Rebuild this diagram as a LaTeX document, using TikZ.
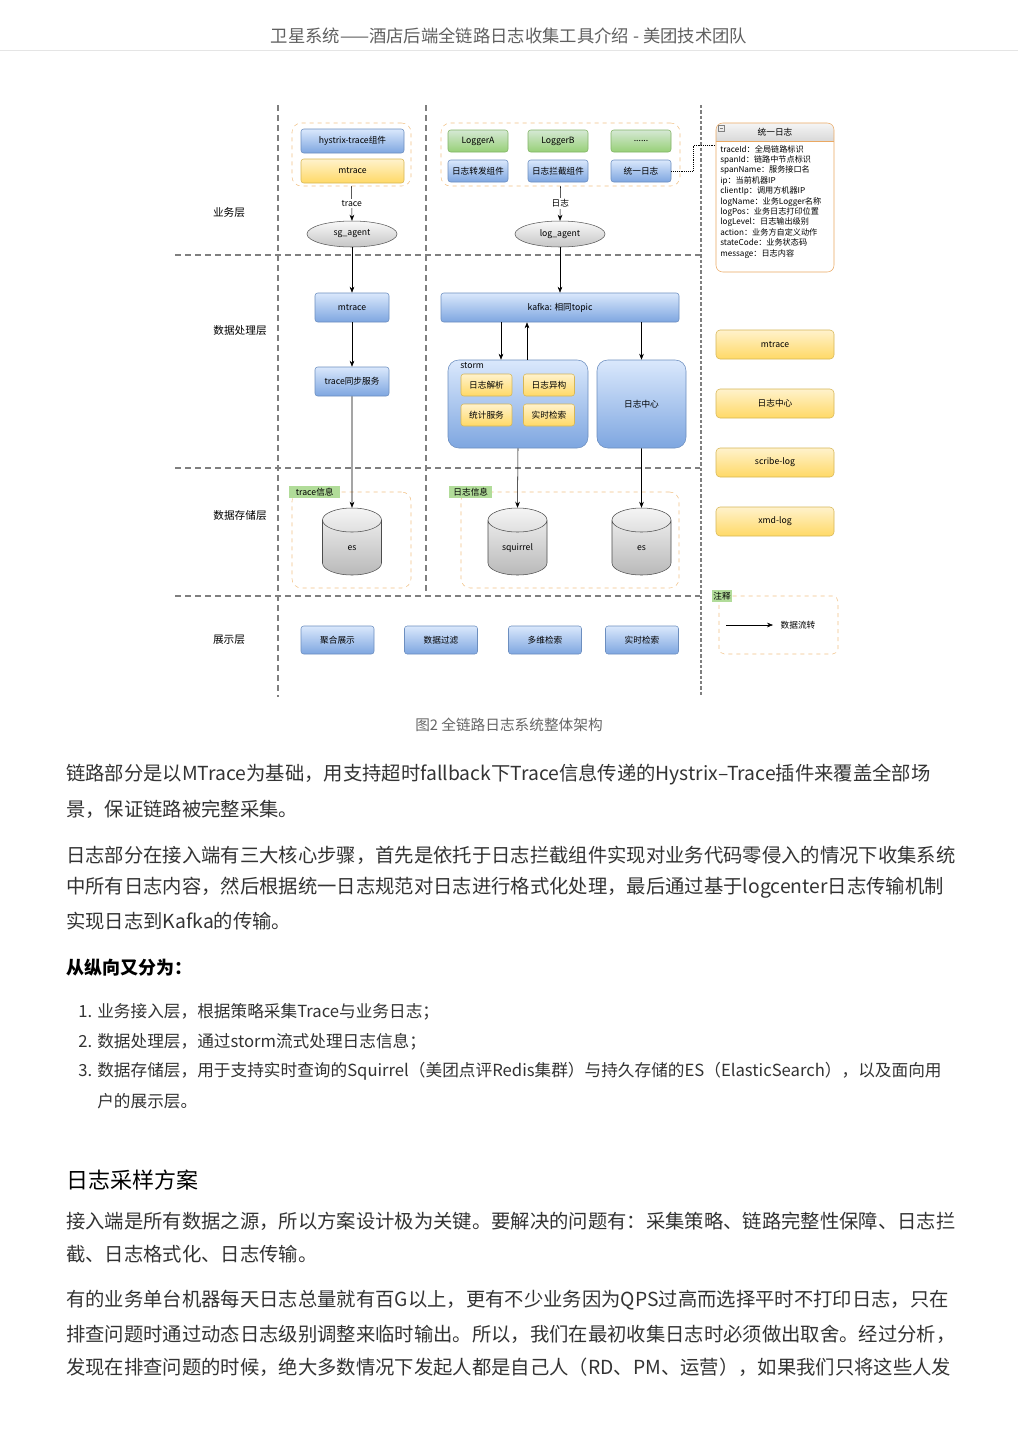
\documentclass[tikz,border=0pt]{standalone}
\usepackage{fontspec}
\setmainfont{Noto Sans CJK SC}
\usetikzlibrary{arrows.meta,positioning,shapes.geometric}
\definecolor{BodyText}{HTML}{333333}
\definecolor{LaneGray}{HTML}{7F7F7F}
\definecolor{BlueTop}{HTML}{DAE8FC}
\definecolor{BlueBot}{HTML}{7EA6E0}
\definecolor{BlueLine}{HTML}{6C8EBF}
\definecolor{YellowTop}{HTML}{FFF2CC}
\definecolor{YellowBot}{HTML}{FFD966}
\definecolor{YellowLine}{HTML}{D6B656}
\definecolor{GreenTop}{HTML}{D5E8D4}
\definecolor{GreenBot}{HTML}{97D077}
\definecolor{GreenLine}{HTML}{82B366}
\definecolor{GroupLine}{HTML}{F2C287}
\definecolor{ClassLine}{HTML}{EAA862}
\newcommand\dgsize{\fontsize{6.5}{7.5}\selectfont}
\newcommand\fieldsize{\fontsize{6.1}{7.8}\selectfont}
\tikzset{
  lane/.style={LaneGray,thick,dash pattern=on 4.5pt off 3pt},
  bluebox/.style={draw=BlueLine,top color=BlueTop,bottom color=BlueBot,rounded corners=2pt,
    inner sep=1pt,font=\dgsize,align=center},
  yellowbox/.style={draw=YellowLine,top color=YellowTop,bottom color=YellowBot,rounded corners=2pt,
    inner sep=1pt,font=\dgsize,align=center},
  greenbox/.style={draw=GreenLine,top color=GreenTop,bottom color=GreenBot,rounded corners=2pt,
    inner sep=1pt,font=\dgsize,align=center},
  group/.style={draw=GroupLine,dashed,rounded corners=7pt,inner sep=0pt},
  tag/.style={fill=GreenBot!75,inner sep=1pt,font=\dgsize},
  agent/.style={ellipse,draw=gray!70!black,top color=gray!5,bottom color=gray!45,inner sep=0pt,
    minimum width=67.5pt,minimum height=19.5pt,font=\dgsize},
  store/.style={cylinder,shape border rotate=90,aspect=0.5,draw=gray!60!black,
    top color=gray!8,bottom color=gray!55,inner sep=0pt,text width=36pt,align=center,
    minimum width=44.25pt,minimum height=50.25pt,font=\dgsize,anchor=shape center},
  outbox/.style={yellowbox,rounded corners=3pt,minimum width=88.5pt,minimum height=21.75pt},
  showbox/.style={bluebox,minimum width=54.75pt,minimum height=21pt},
  flow/.style={-{Stealth[length=4.5pt,width=3.5pt]},black,thin},
  layer/.style={font=\fontsize{8}{9}\selectfont},
  bodyline/.style={anchor=west,inner sep=0pt,text=BodyText,font=\fontsize{14.5}{18}\selectfont},
  listline/.style={anchor=west,inner sep=0pt,text=BodyText,font=\fontsize{12.5}{15}\selectfont}
}
\begin{document}
\begin{tikzpicture}[x=0.75pt,y=-0.75pt]
\useasboundingbox (0,0) rectangle (1018,1440);
\fill[white] (0,0) rectangle (1018,1440);

% page header
\node[text=gray!75!black,font=\fontsize{13}{15}\selectfont] (header) at (509,36)
  {卫星系统——酒店后端全链路日志收集工具介绍 - 美团技术团队};
\draw[gray!20] (0,50) -- (1018,50);

% swim lanes
\draw[lane] (175,255) -- (700,255);
\draw[lane] (175,468) -- (700,468);
\draw[lane] (175,596) -- (700,596);
\draw[lane] (278,105) -- (278,697);
\draw[lane] (426,105) -- (426,596);
\draw[lane,dash pattern=on 2.5pt off 1.5pt] (701,105) -- (701,697);

\node[layer] (l1) at (229,212) {业务层};
\node[layer] (l2) at (240,330) {数据处理层};
\node[layer] (l3) at (240,515) {数据存储层};
\node[layer] (l4) at (229,640) {展示层};

% business layer
\node[group,minimum width=89.25pt,minimum height=47.25pt] (tgroup) at (351.5,154.5) {};
\node[bluebox,minimum width=77.25pt,minimum height=18pt] (hystrix) at (352.5,141) {hystrix-trace组件};
\node[yellowbox,minimum width=77.25pt,minimum height=18pt] (mtrace0) at (352.5,171) {mtrace};
\node[agent] (sgagent) at (352,234) {sg\_agent};

\node[group,minimum width=179.25pt,minimum height=47.25pt] (lgroup) at (560.5,154.5) {};
\node[greenbox,minimum width=45pt,minimum height=16.5pt] (loga) at (478,141) {LoggerA};
\node[greenbox,minimum width=45pt,minimum height=16.5pt] (logb) at (558,141) {LoggerB};
\node[greenbox,minimum width=45pt,minimum height=16.5pt] (logc) at (641,141) {......};
\node[bluebox,minimum width=45pt,minimum height=16.5pt] (fwd) at (478,171) {日志转发组件};
\node[bluebox,minimum width=45pt,minimum height=16.5pt] (icpt) at (558,171) {日志拦截组件};
\node[bluebox,minimum width=45pt,minimum height=16.5pt] (ulog) at (641,171) {统一日志};
\node[agent] (logagent) at (560,234) {log\_agent};

% unified log format
\begin{scope}
  \clip[rounded corners=5pt] (716,123) rectangle (834,272);
  \shade[top color=gray!8,bottom color=gray!30] (716,123) rectangle (834,141);
\end{scope}
\draw[ClassLine] (716,141) -- (834,141);
\draw[gray,line width=0.3pt] (718.5,125) rectangle (724.5,131);
\draw[gray,line width=0.3pt] (719.7,128) -- (723.3,128);
\node[draw=ClassLine,rounded corners=5pt,minimum width=88.5pt,minimum height=111.75pt] (logbox) at (775,197.5) {};
\node[font=\dgsize] (logtitle) at (775,132) {统一日志};
\node[anchor=north west,align=left,inner sep=0pt,font=\fieldsize] (fields) at (720,145)
  {traceId：全局链路标识\\spanId：链路中节点标识\\spanName：服务接口名\\ip：当前机器IP\\
   clientIp：调用方机器IP\\logName：业务Logger名称\\logPos：业务日志打印位置\\
   logLevel：日志输出级别\\action：业务方自定义动作\\stateCode：业务状态码\\message：日志内容};
\coordinate (bend) at (693,145);
\draw[densely dotted] (ulog.east) -| (bend) -- (logbox.west |- bend);

% processing layer
\node[bluebox,minimum width=55.5pt,minimum height=21.75pt] (mtrace1) at (352,307.5) {mtrace};
\node[bluebox,minimum width=55.5pt,minimum height=21.75pt] (tsync) at (352,381.5) {trace同步服务};
\node[bluebox,minimum width=178.5pt,minimum height=21.75pt] (kafka) at (560,307.5) {kafka: 相同topic};
\node[bluebox,rounded corners=8pt,minimum width=105pt,minimum height=66pt] (storm) at (518,404) {};
\node[anchor=north west,inner sep=0pt,font=\dgsize] (stormlbl) at (460,362) {storm};
\node[yellowbox,minimum width=38.25pt,minimum height=16.5pt] (parse) at (486.5,385) {日志解析};
\node[yellowbox,minimum width=38.25pt,minimum height=16.5pt] (hetero) at (549,385) {日志异构};
\node[yellowbox,minimum width=38.25pt,minimum height=16.5pt] (stat) at (486.5,415) {统计服务};
\node[yellowbox,minimum width=38.25pt,minimum height=16.5pt] (rtsearch) at (549,415) {实时检索};
\node[bluebox,rounded corners=8pt,minimum width=66.75pt,minimum height=66pt] (center) at (641.5,404) {日志中心};

\node[outbox] (omtrace) at (775,344.5) {mtrace};
\node[outbox] (ocenter) at (775,403.5) {日志中心};
\node[outbox] (oscribe) at (775,462.5) {scribe-log};
\node[outbox] (oxmd) at (775,521.5) {xmd-log};

% storage layer
\node[group,minimum width=89.25pt,minimum height=72pt] (tinfo) at (351.5,540) {};
\node[tag,anchor=west,minimum width=38.25pt,minimum height=9pt] (ttag) at (289,492) {trace信息};
\node[store] (es1) at (352,541.5) {es};
\node[group,minimum width=163.5pt,minimum height=72pt] (linfo) at (570,540) {};
\node[tag,anchor=west,minimum width=32.25pt,minimum height=9pt] (ltag) at (449,492) {日志信息};
\node[store] (squirrel) at (517.5,541.5) {squirrel};
\node[store] (es2) at (641.5,541.5) {es};

% presentation layer
\node[showbox] (agg) at (337.5,640) {聚合展示};
\node[showbox] (filter) at (441,640) {数据过滤};
\node[showbox] (multi) at (545,640) {多维检索};
\node[showbox] (realtime) at (642,640) {实时检索};

% legend
\node[group,rounded corners=4pt,minimum width=89.25pt,minimum height=43.5pt] (legend) at (778.5,625) {};
\node[tag,minimum width=15pt,minimum height=9pt] (ltag2) at (722,596) {注释};
\coordinate (la) at (726,625);
\coordinate (lb) at (773,625);
\node[font=\dgsize] (flowlbl) at (798,625) {数据流转};

% data flows
\draw[flow] (tgroup.south) -- node[fill=white,inner sep=1pt,font=\dgsize] {trace} (sgagent.north);
\draw[flow] (lgroup.south) -- node[fill=white,inner sep=1pt,font=\dgsize] {日志} (logagent.north);
\draw[flow] (sgagent.south) -- (mtrace1.north);
\draw[flow] (mtrace1.south) -- (tsync.north);
\draw[flow] (tsync.south) -- (es1.north);
\draw[flow] (logagent.south) -- (kafka.north);
\draw[flow] ([xshift=-12.75pt]storm.north |- kafka.south) -- ([xshift=-12.75pt]storm.north);
\draw[flow] ([xshift=6.75pt]storm.north) -- ([xshift=6.75pt]storm.north |- kafka.south);
\draw[flow] (center.north |- kafka.south) -- (center.north);
\draw[flow] (storm.south) -- (squirrel.north);
\draw[flow] (center.south) -- (es2.north);
\draw[flow] (la) -- (lb);

% caption
\node[text=gray!80!black,font=\fontsize{11}{13}\selectfont] (caption) at (509,725) {图2 全链路日志系统整体架构};

% article text
\node[bodyline] (p1a) at (66,775) {链路部分是以MTrace为基础，用支持超时fallback下Trace信息传递的Hystrix–Trace插件来覆盖全部场};
\node[bodyline] (p1b) at (66,809) {景，保证链路被完整采集。};
\node[bodyline] (p2a) at (66,855) {日志部分在接入端有三大核心步骤，首先是依托于日志拦截组件实现对业务代码零侵入的情况下收集系统};
\node[bodyline] (p2b) at (66,888) {中所有日志内容，然后根据统一日志规范对日志进行格式化处理，最后通过基于logcenter日志传输机制};
\node[bodyline] (p2c) at (66,921) {实现日志到Kafka的传输。};
\node[bodyline,font=\fontsize{13.5}{16}\selectfont\bfseries,text=black] (p3) at (66,968) {从纵向又分为：};
\node[listline] (n1) at (78,1012) {1.};
\node[listline] (i1) at (97,1012) {业务接入层，根据策略采集Trace与业务日志；};
\node[listline] (n2) at (78,1042) {2.};
\node[listline] (i2) at (97,1042) {数据处理层，通过storm流式处理日志信息；};
\node[listline] (n3) at (78,1071) {3.};
\node[listline] (i3) at (97,1071) {数据存储层，用于支持实时查询的Squirrel（美团点评Redis集群）与持久存储的ES（ElasticSearch），以及面向用};
\node[listline] (i3b) at (97,1101) {户的展示层。};
\node[bodyline,font=\fontsize{16.5}{20}\selectfont,text=black] (h2) at (66,1180) {日志采样方案};
\node[bodyline] (p4a) at (66,1221) {接入端是所有数据之源，所以方案设计极为关键。要解决的问题有：采集策略、链路完整性保障、日志拦};
\node[bodyline] (p4b) at (66,1254) {截、日志格式化、日志传输。};
\node[bodyline] (p5a) at (66,1300) {有的业务单台机器每天日志总量就有百G以上，更有不少业务因为QPS过高而选择平时不打印日志，只在};
\node[bodyline] (p5b) at (66,1334) {排查问题时通过动态日志级别调整来临时输出。所以，我们在最初收集日志时必须做出取舍。经过分析，};
\node[bodyline] (p5c) at (66,1367) {发现在排查问题的时候，绝大多数情况下发起人都是自己人（RD、PM、运营），如果我们只将这些人发};
\end{tikzpicture}
\end{document}
